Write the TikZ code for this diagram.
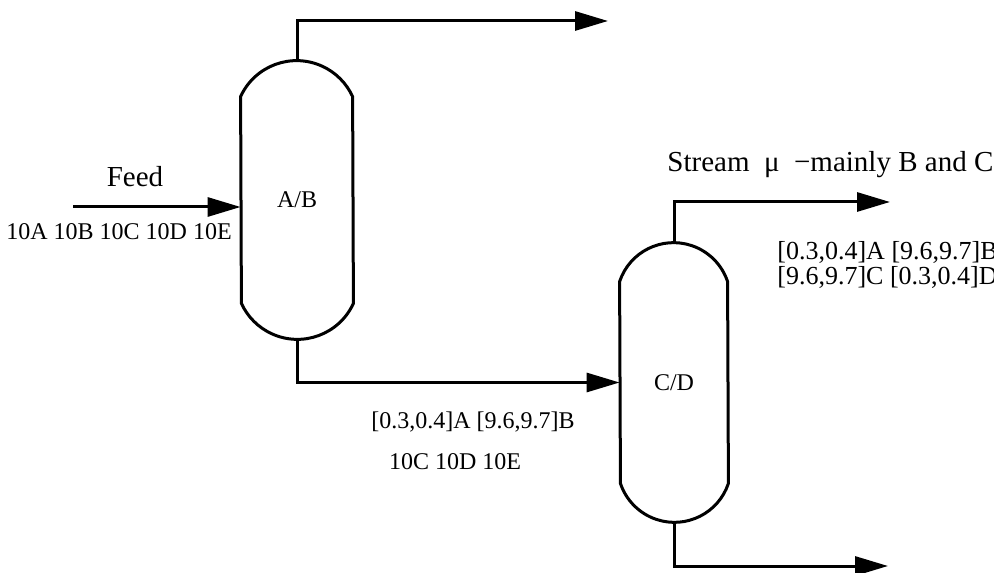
\documentclass[tikz,border=0pt]{standalone}
\usepackage{fontspec}
\setmainfont{Liberation Serif}
\usetikzlibrary{arrows.meta,positioning,calc}

\begin{document}
\begin{tikzpicture}[x=0.5pt,y=0.5pt,
          col/.style={minimum width=#1,inner sep=0pt,font=\fontsize{12}{14}\selectfont},
          vessel/.style={line width=1.5pt,line join=round},
          strm/.style={line width=1.5pt,-{Triangle[length=16.5pt,width=9.5pt]}},
          lbl/.style={font=\fontsize{12}{14}\selectfont,inner sep=0pt},
          sidelbl/.style={font=\fontsize{13}{15}\selectfont,inner sep=0pt,anchor=west},
          biglbl/.style={font=\fontsize{14.5}{17}\selectfont,inner sep=0pt}]
  \useasboundingbox (0,0) rectangle (994,572);
  \node[col=56pt,minimum height=139pt] (ab) at (297,372) {A/B};
  \node[col=54pt,minimum height=139.5pt] (cd) at (674,189.5) {C/D};
  \draw[vessel] ([yshift=-18pt]ab.north west)
      arc[start angle=155.4,end angle=24.6,radius=30.8pt]
      -- ([yshift=18pt]ab.south east)
      arc[start angle=-24.6,end angle=-155.4,radius=30.8pt] -- cycle;
  \draw[vessel] ([yshift=-19.5pt]cd.north west)
      arc[start angle=161.6,end angle=18.4,radius=28.45pt]
      -- ([yshift=19.5pt]cd.south east)
      arc[start angle=-18.4,end angle=-161.6,radius=28.45pt] -- cycle;
  \coordinate (feedin) at (73,365);
  \coordinate (abtop) at (608,551);
  \coordinate (cdtop) at (890,370);
  \coordinate (cdbot) at (888,6);
  \draw[strm] (feedin) -- (feedin -| ab.west);
  \draw[strm] (ab.north) |- (abtop);
  \draw[strm] (ab.south) |- (cd.west);
  \draw[strm] (cd.north) |- (cdtop);
  \draw[strm] (cd.south) |- (cdbot);
  \node[biglbl] (feedlbl) at (135,395) {Feed};
  \node[lbl] (feedcomp) at (119,340) {10A 10B 10C 10D 10E};
  \node[lbl] (midcomp1) at (473,150) {[0.3,0.4]A [9.6,9.7]B};
  \node[lbl] (midcomp2) at (455,110) {10C 10D 10E};
  \node[biglbl,anchor=west] (toplbl) at (667,407) {Stream\ \ μ\ \ −mainly B and C};
  \node[sidelbl] (topcomp1) at (777,320) {[0.3,0.4]A [9.6,9.7]B};
  \node[sidelbl] (topcomp2) at (777,295) {[9.6,9.7]C [0.3,0.4]D};
\end{tikzpicture}
\end{document}
